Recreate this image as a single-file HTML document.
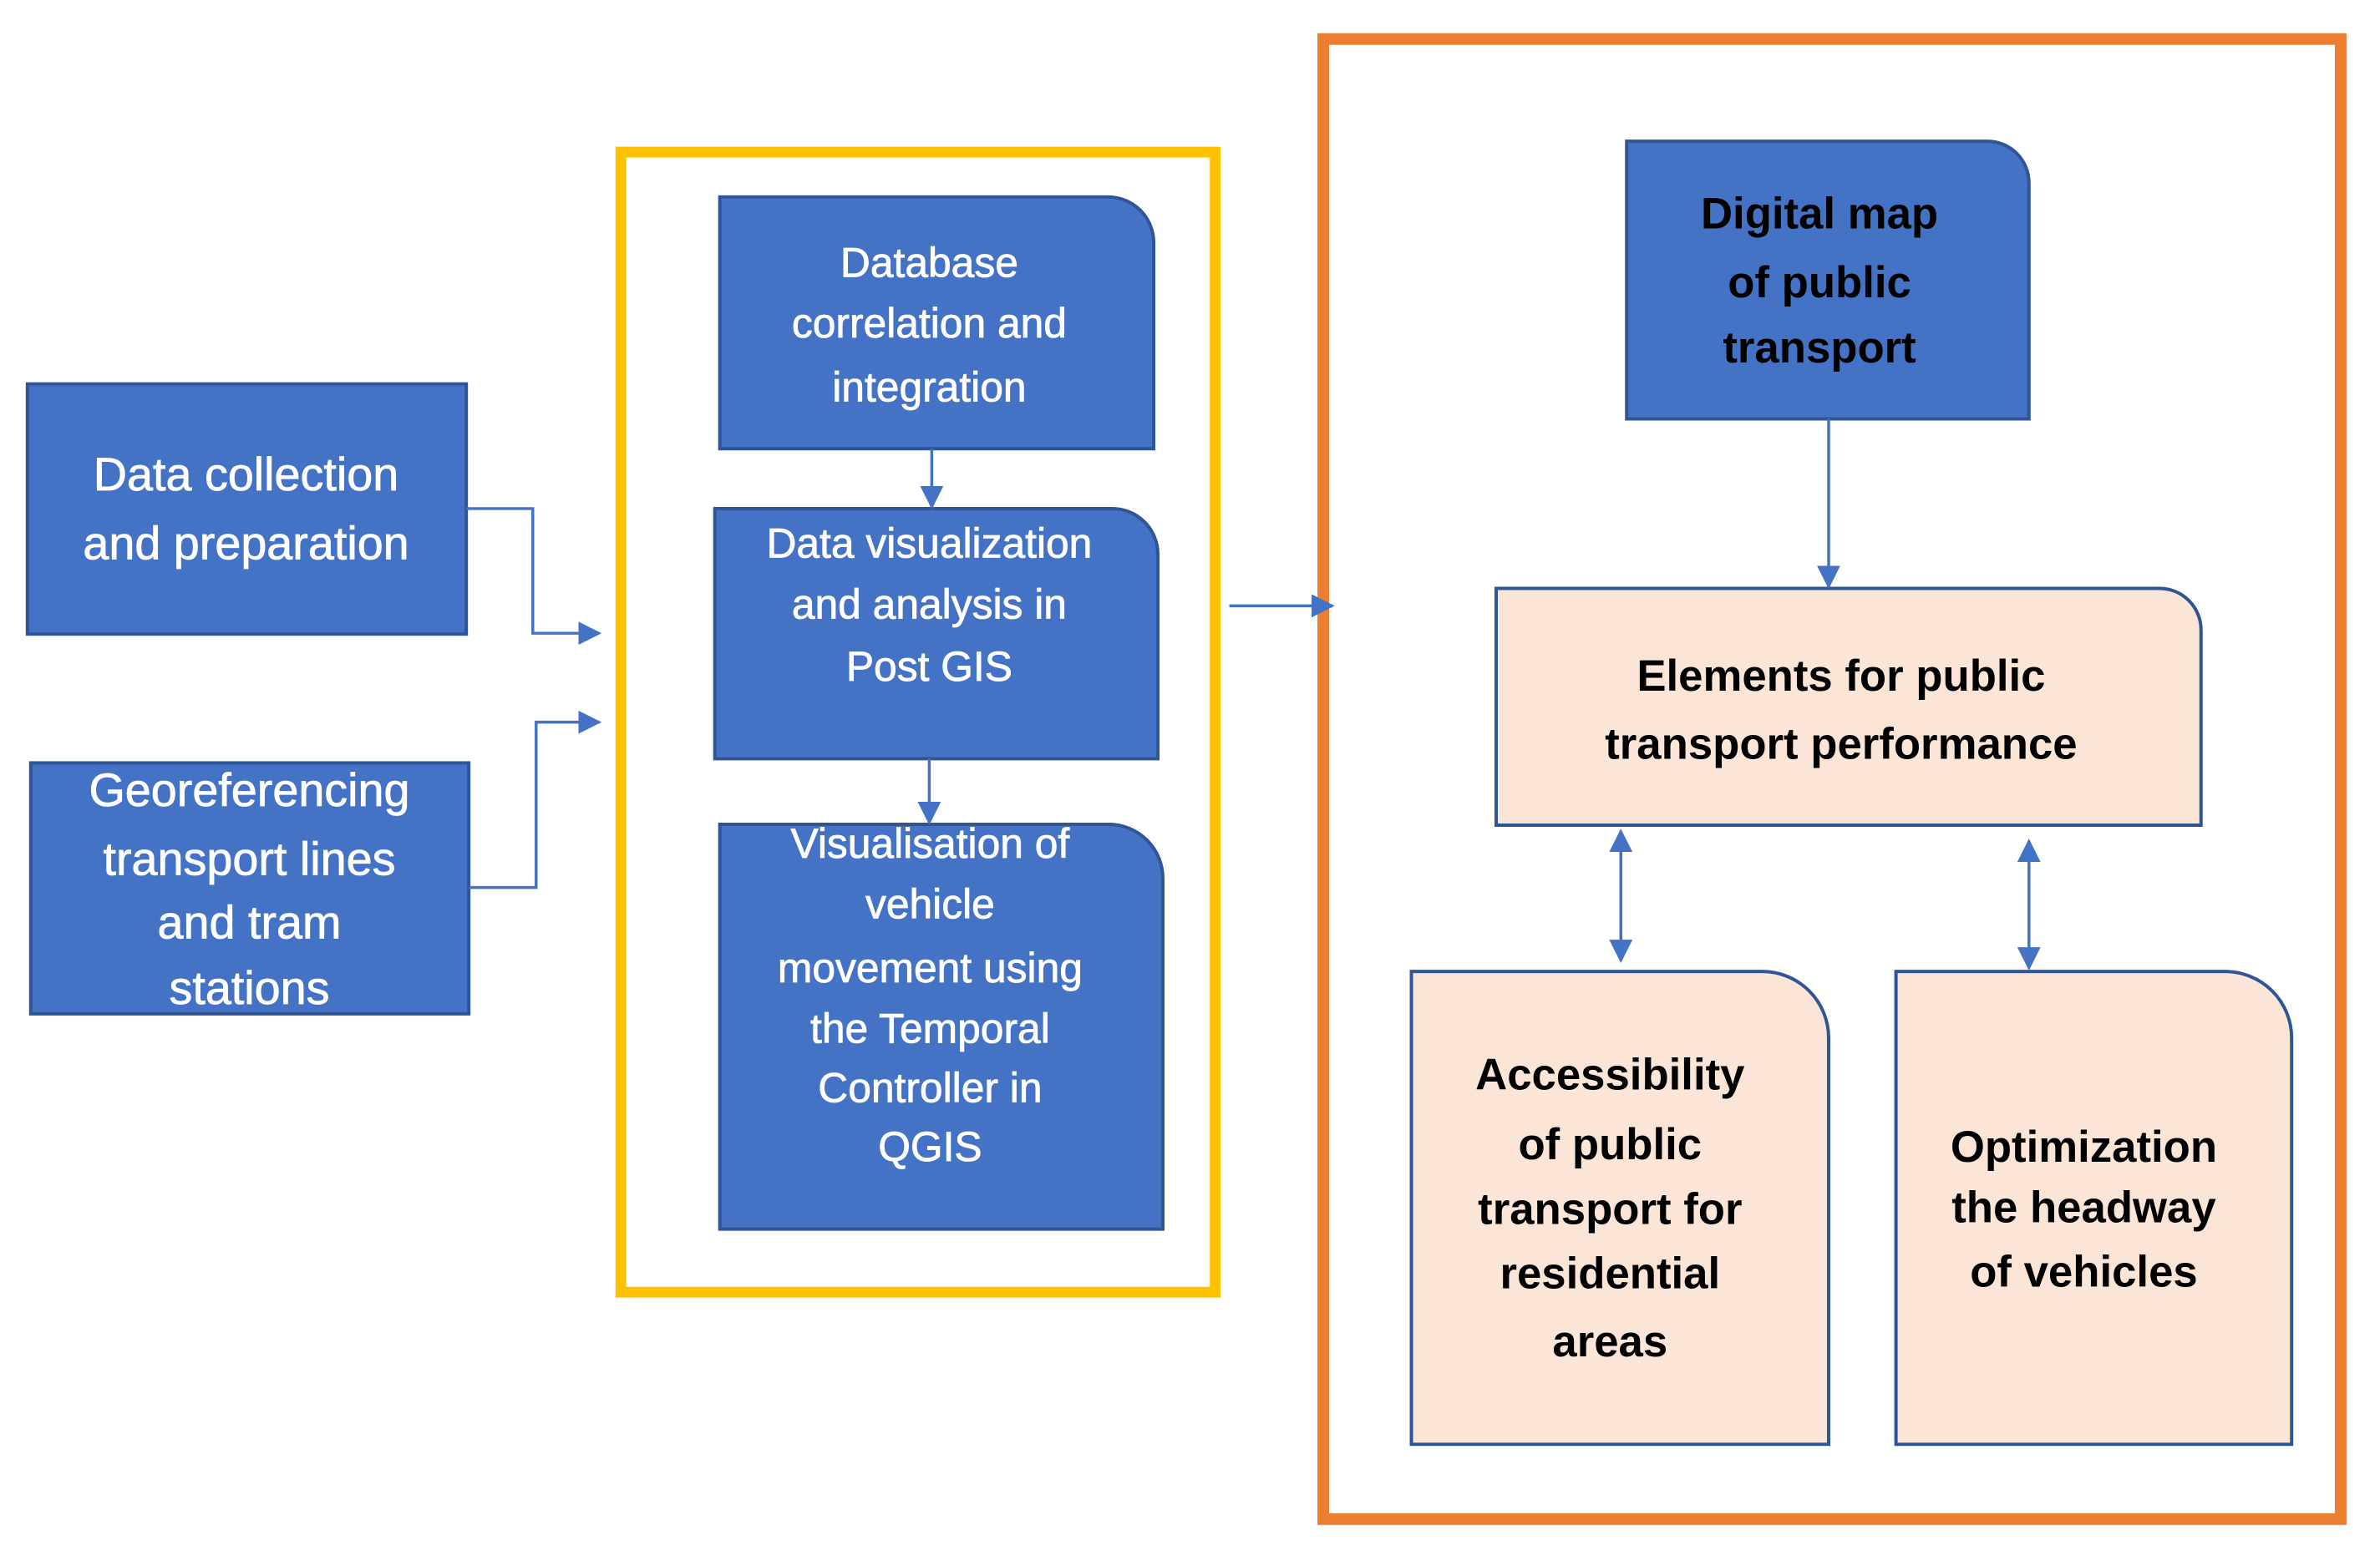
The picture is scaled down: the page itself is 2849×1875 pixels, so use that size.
<!DOCTYPE html>
<html><head><meta charset="utf-8"><style>html,body{margin:0;padding:0;background:#fff}svg{display:block}</style></head>
<body>
<svg width="2849" height="1875" viewBox="0 0 2849 1875" xmlns="http://www.w3.org/2000/svg" font-family="'Liberation Sans',sans-serif">
<defs>
<marker id="a" viewBox="0 0 10 10" refX="9" refY="5" markerWidth="8" markerHeight="8" orient="auto-start-reverse" markerUnits="strokeWidth"><path d="M0,0L10,5L0,10z" fill="#4472C4"/></marker>
</defs>
<g transform="scale(0.995)">
<rect x="747" y="183" width="715" height="1372" fill="none" stroke="#FFC000" stroke-width="13"/>
<rect x="1592" y="47" width="1224" height="1781" fill="none" stroke="#ED7D31" stroke-width="14"/>
<g fill="#4472C4" stroke="#2F5597" stroke-width="4">
<rect x="33" y="462" width="528" height="301"/>
<rect x="37" y="918" width="527" height="302"/>
<path d="M866,237H1333A55,55 0 0 1 1388,292V540H866Z"/>
<path d="M860,612H1338A55,55 0 0 1 1393,667V913H860Z"/>
<path d="M866,992H1334A65,65 0 0 1 1399,1057V1479H866Z"/>
<path d="M1957,170H2391A50,50 0 0 1 2441,220V504H1957Z"/>
</g>
<g fill="#FBE5D6" stroke="#2F5597" stroke-width="4">
<path d="M1800,708H2598A50,50 0 0 1 2648,758V993H1800Z"/>
<path d="M1698,1169H2120A80,80 0 0 1 2200,1249V1738H1698Z"/>
<path d="M2281,1169H2677A80,80 0 0 1 2757,1249V1738H2281Z"/>
</g>
<g fill="none" stroke="#4472C4" stroke-width="3.5" marker-end="url(#a)">
<path d="M561,612H641V762H721"/>
<path d="M564,1068H645V869H721"/>
<path d="M1121,540V610"/>
<path d="M1118,913V990"/>
<path d="M1479,729H1603"/>
<path d="M2200,504V706"/>
<path d="M1950,1000V1156" marker-start="url(#a)"/>
<path d="M2441,1012V1165" marker-start="url(#a)"/>
</g>
<g fill="#fff" text-anchor="middle" font-size="56" stroke="#fff" stroke-width="0.8">
<text x="296" y="590">Data collection</text>
<text x="296" y="673">and preparation</text>
<text x="300" y="970">Georeferencing</text>
<text x="300" y="1053">transport lines</text>
<text x="300" y="1129">and tram</text>
<text x="300" y="1208">stations</text>
</g>
<g fill="#fff" text-anchor="middle" font-size="50" stroke="#fff" stroke-width="0.8">
<text x="1118" y="333">Database</text>
<text x="1118" y="406">correlation and</text>
<text x="1118" y="483">integration</text>
<text x="1118" y="671">Data visualization</text>
<text x="1118" y="744">and analysis in</text>
<text x="1118" y="819">Post GIS</text>
<text x="1119" y="1032">Visualisation of</text>
<text x="1119" y="1105">vehicle</text>
<text x="1119" y="1182">movement using</text>
<text x="1119" y="1255">the Temporal</text>
<text x="1119" y="1326">Controller in</text>
<text x="1119" y="1397">QGIS</text>
</g>
<g fill="#000" text-anchor="middle" font-size="53" font-weight="bold">
<text x="2189" y="275">Digital map</text>
<text x="2189" y="358">of public</text>
<text x="2189" y="436">transport</text>
<text x="2215" y="831">Elements for public</text>
<text x="2215" y="913">transport performance</text>
<text x="1937" y="1311">Accessibility</text>
<text x="1937" y="1395">of public</text>
<text x="1937" y="1473">transport for</text>
<text x="1937" y="1550">residential</text>
<text x="1937" y="1632">areas</text>
<text x="2507" y="1398">Optimization</text>
<text x="2507" y="1471">the headway</text>
<text x="2507" y="1548">of vehicles</text>
</g>
</g>
</svg>
</body></html>
